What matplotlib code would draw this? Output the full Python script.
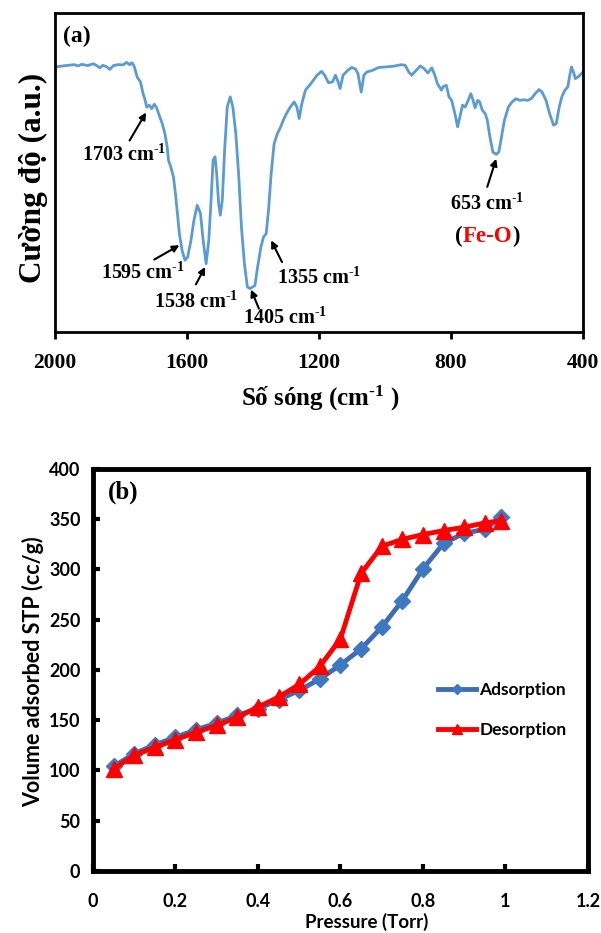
import numpy as np
import matplotlib
matplotlib.use('Agg')
import matplotlib.pyplot as plt

plt.rcParams['mathtext.fontset'] = 'custom'
plt.rcParams['mathtext.rm'] = 'Liberation Serif:bold'
plt.rcParams['mathtext.bf'] = 'Liberation Serif:bold'
plt.rcParams['mathtext.default'] = 'bf'

# ---- panel (a): FTIR spectrum ----
wavenumber = [2000, 1983, 1965, 1942, 1930, 1919, 1901, 1884, 1872, 1864, 1855, 1843, 1834, 1823,
              1809, 1795, 1783, 1774, 1767, 1760, 1751, 1741, 1733, 1728,
              1722, 1714, 1707, 1699, 1693, 1684, 1675, 1667, 1660, 1656, 1649, 1641, 1635, 1629,
              1623, 1615, 1606, 1598, 1588, 1579, 1569, 1559, 1551, 1542, 1534, 1527, 1521, 1515,
              1510, 1504, 1499, 1493, 1486, 1478, 1469, 1461, 1452, 1443, 1435, 1426, 1417, 1409,
              1401, 1394, 1386, 1376, 1368, 1360, 1353, 1345, 1336, 1326, 1316, 1308, 1299, 1287,
              1275, 1267, 1260, 1252, 1241, 1229, 1217, 1206, 1192, 1183, 1171, 1159, 1150, 1142,
              1136, 1127, 1113, 1101, 1090, 1082, 1072, 1064, 1055, 1038, 1020, 997, 974, 951, 939,
              928, 919, 904, 893, 881, 870, 858, 849, 841, 829, 823, 814, 806, 798, 788, 780, 773,
              765, 757, 748, 740, 733, 727, 719, 713, 705, 696, 690, 682, 673, 663, 655, 647, 638,
              626, 615, 603, 591, 580, 568, 557, 545, 533, 524, 512, 501, 489, 481, 472, 464, 455,
              446, 441, 435, 429, 423, 412, 400]
intensity = [83.1, 83.3, 83.5, 83.8, 83.4, 83.9, 83.5, 84.1, 83.4, 82.8, 83.6, 83.1, 82.3, 83.5,
             83.8, 83.7, 84.5, 83.8, 84.4, 83.3, 79.9, 78.4, 74.7, 73.1,
             70.5, 71.1, 70.0, 71.4, 70.5, 67.9, 65.3, 62.2, 58.0, 53.8, 51.7, 48.6, 43.4, 37.1,
             30.8, 25.6, 22.5, 23.5, 28.7, 35.0, 39.7, 37.1, 28.7, 21.4, 28.7, 41.3, 53.8, 54.9,
             49.6, 40.2, 36.6, 41.3, 57.0, 70.5, 73.7, 70.5, 62.2, 48.6, 32.9, 21.4, 14.1, 13.6,
             14.1, 14.6, 20.4, 26.6, 29.8, 30.8, 38.1, 49.6, 59.0, 62.2, 64.3, 66.4, 68.4, 70.5,
             72.1, 70.5, 66.9, 71.6, 75.8, 77.3, 78.9, 80.5, 81.7, 80.5, 78.1, 78.4, 80.5, 78.4,
             76.3, 80.5, 82.0, 82.9, 82.5, 81.0, 75.2, 80.5, 81.5, 82.0, 82.9, 83.1, 83.3, 83.8, 83.6,
             81.5, 80.5, 82.2, 83.4, 82.5, 81.2, 82.8, 80.5, 77.8, 75.8, 77.0, 77.3, 73.7, 72.6, 68.4, 64.3, 67.4,
             71.1, 70.5, 72.6, 74.7, 72.6, 70.3, 72.6, 72.1, 69.5, 68.4, 66.4, 61.1, 56.4, 55.7, 56.4, 61.1, 66.4,
             70.5, 72.1, 73.1, 72.6, 72.8, 72.6, 73.1, 74.7, 76.0, 75.2, 72.6, 68.4, 64.8, 65.3, 70.5, 73.7, 75.8,
             76.8, 79.9, 83.1, 81.5, 79.4, 80.2, 81.5]

SUP = '$^{\u2010 1}$'
# peak labels: text, text position, arrow tail, arrow head
peak_labels = ['1703 cm' + SUP, '1595 cm' + SUP, '1538 cm' + SUP, '1405 cm' + SUP,
               '1355 cm' + SUP, '653 cm' + SUP]
label_pos = [(1791, 55.3), (1733, 18.3), (1571, 9.4), (1304, 4.2), (1200, 16.7), (690, 40.0)]
arrow_tail = [(1774, 60.0), (1699, 22.7), (1573, 14.9), (1382, 7.3), (1312, 21.9), (690, 45.5)]
arrow_head = [(1724, 68.8), (1623, 27.2), (1545, 20.4), (1406, 13.3), (1345, 28.7), (663, 54.3)]

# ---- panel (b): N2 isotherm ----
pressure = [0.05, 0.10, 0.15, 0.20, 0.25, 0.30, 0.35, 0.40, 0.45, 0.50,
            0.55, 0.60, 0.65, 0.70, 0.75, 0.80, 0.85, 0.90, 0.95, 0.99]
adsorption = [104, 116.7, 125.6, 133, 140.5, 147, 154.8, 161.4, 170.3, 179.6,
              191, 205, 221, 242.6, 269, 300.6, 326, 336, 340, 352]
desorption = [101.7, 115, 123, 130.6, 138, 144.8, 153, 163, 173, 185.6,
              203.5, 231, 296, 323, 330, 334.7, 338.7, 342, 346.3, 348.6]

serif = 'Liberation Serif'
sans = 'Lato'

fig = plt.figure(figsize=(6.01, 9.33), dpi=100)

# panel a
ax1 = fig.add_axes([0.0915, 0.6442, 0.8785, 0.3419])
ax1.plot(wavenumber, intensity, color='#5b9bd5', lw=2)
ax1.set_xlim(2000, 400)
ax1.set_ylim(0, 100)
ax1.set_xticks([2000, 1600, 1200, 800, 400])
ax1.set_yticks([])
ax1.tick_params(axis='x', direction='out', length=5, width=2, pad=10)
for lab in ax1.get_xticklabels():
    lab.set_fontfamily(serif)
    lab.set_fontweight('bold')
    lab.set_fontsize(15.5)
for s in ax1.spines.values():
    s.set_linewidth(2)

for txt, tp, tl, hd in zip(peak_labels, label_pos, arrow_tail, arrow_head):
    ax1.annotate('', xy=hd, xytext=tl,
                 arrowprops=dict(arrowstyle='-|>', color='black', lw=1.5, mutation_scale=10,
                                 shrinkA=0, shrinkB=0))
    ax1.text(tp[0], tp[1], txt, ha='center', va='center', fontfamily=serif,
             fontweight='bold', fontsize=14.5)

# (Fe-O) with red inner text
feo_xy = (690, 29.8)
ax1.annotate('Fe-O', xy=feo_xy, ha='center', va='center', fontfamily=serif,
             fontweight='bold', fontsize=16.5, color='red')
ax1.annotate('(', xy=feo_xy, xytext=(-18, 0), textcoords='offset points', ha='right',
             va='center', fontfamily=serif, fontweight='bold', fontsize=16.5)
ax1.annotate(')', xy=feo_xy, xytext=(18, 0), textcoords='offset points', ha='left',
             va='center', fontfamily=serif, fontweight='bold', fontsize=16.5)

ax1.text(0.015, 0.96, '(a)', transform=ax1.transAxes, ha='left', va='top',
         fontfamily=serif, fontweight='bold', fontsize=17)

fig.text(320 / 601, 1 - 398 / 933, 'Số sóng (cm' + SUP + ' )', ha='center', va='center',
         fontfamily=serif, fontweight='bold', fontsize=18)
fig.text(33 / 601, 1 - 178 / 933, 'Cường độ (a.u.)', ha='center', va='center', rotation=90,
         fontfamily=serif, fontweight='bold', fontsize=22.5)

# panel b
ax2 = fig.add_axes([0.1547, 0.0665, 0.8236, 0.4309])
ax2.plot(pressure, adsorption, color='#3e6db5', lw=3.5, marker='D', markersize=8.5,
         markerfacecolor='#3e78c0', markeredgecolor='#3e78c0', label='Adsorption', zorder=2)
ax2.plot(pressure, desorption, color='#ff0000', lw=3.5, marker='^', markersize=11,
         markerfacecolor='#ff0000', markeredgecolor='#ff0000', label='Desorption', zorder=3)
ax2.set_xlim(0, 1.2)
ax2.set_ylim(0, 400)
ax2.set_xticks(np.arange(0, 1.21, 0.2))
ax2.set_xticklabels(['0', '0.2', '0.4', '0.6', '0.8', '1', '1.2'])
ax2.set_yticks(np.arange(0, 401, 50))
ax2.tick_params(direction='in', length=5, width=3)
ax2.tick_params(axis='x', pad=16)
ax2.tick_params(axis='y', pad=9)
for lab in ax2.get_xticklabels() + ax2.get_yticklabels():
    lab.set_fontfamily(sans)
    lab.set_fontweight('bold')
    lab.set_fontsize(13)
for s in ax2.spines.values():
    s.set_linewidth(3.5)

leg = ax2.legend(loc='center left', bbox_to_anchor=(0.665, 0.40), frameon=False,
                 prop={'family': sans, 'weight': 'bold', 'size': 12.5},
                 handlelength=2.2, handletextpad=0.2, labelspacing=1.35, markerscale=0.6)

ax2.text(0.03, 0.97, '(b)', transform=ax2.transAxes, ha='left', va='top',
         fontfamily=serif, fontweight='bold', fontsize=18)

fig.text(33 / 601, 1 - 672 / 933, 'Volume adsorbed STP (cc/g)', ha='center', va='center',
         rotation=90, fontfamily=sans, fontweight='bold', fontsize=15.5)
fig.text(367 / 601, 1 - 922 / 933, 'Pressure (Torr)', ha='center', va='center',
         fontfamily=sans, fontweight='bold', fontsize=13.5)

fig.savefig('out.png', dpi=100)
